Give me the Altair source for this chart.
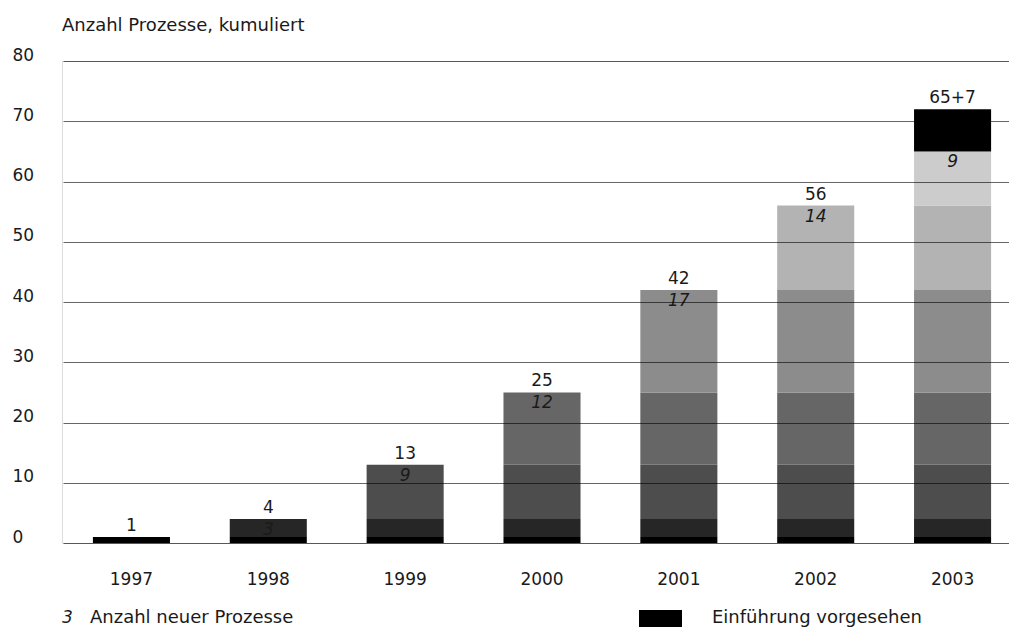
import altair as alt
import pandas as pd

# ---- data ----
years = ["1997", "1998", "1999", "2000", "2001", "2002", "2003"]
new_counts = [1, 3, 9, 12, 17, 14, 9]          # new processes per year (cohort)
planned = [0, 0, 0, 0, 0, 0, 7]                # introduction planned
total_labels = ["1", "4", "13", "25", "42", "56", "65+7"]
new_labels = ["", "3", "9", "12", "17", "14", "9"]
y_ticks = [0, 10, 20, 30, 40, 50, 60, 70, 80]

cohort_domain = years + ["geplant"]
cohort_colors = ["#000000", "#262626", "#4d4d4d", "#666666",
                 "#8c8c8c", "#b3b3b3", "#cccccc", "#000000"]

FONT = "DejaVu Sans"
FS = 17        # numbers
FS_W = 18      # word texts
TXT = "#1a1a1a"

# stacked segments: every bar contains all cohorts up to its year
rows = []
for i, yr in enumerate(years):
    for j in range(i + 1):
        rows.append({"year": yr, "cohort": years[j], "value": new_counts[j], "order": j})
    if planned[i] > 0:
        rows.append({"year": yr, "cohort": "geplant", "value": planned[i], "order": len(years)})
seg = pd.DataFrame(rows)

cum = pd.Series(new_counts).cumsum().tolist()
lab = pd.DataFrame({
    "year": years,
    "cum": cum,
    "top": [c + p for c, p in zip(cum, planned)],
    "total_label": total_labels,
    "new_label": new_labels,
})

x_scale = alt.Scale(paddingInner=0.437, paddingOuter=0.2185, range=[1, 959])
x_enc = alt.X("year:N", sort=years, scale=x_scale,
              axis=alt.Axis(title=None, labelAngle=0, ticks=False, domain=False,
                            labelFont=FONT, labelFontSize=FS, labelColor=TXT,
                            labelBaseline="alphabetic", labelPadding=41, grid=False))
y_scale = alt.Scale(domain=[0, 80], nice=False)

bars = alt.Chart(seg).mark_bar().encode(
    x=x_enc,
    y=alt.Y("value:Q", stack="zero", scale=y_scale,
            axis=alt.Axis(title=None, values=y_ticks, ticks=False, domain=False,
                          labelFont=FONT, labelFontSize=FS, labelColor=TXT,
                          labelAlign="left", labelBaseline="alphabetic",
                          labelPadding=50, labelOffset=-1,
                          grid=True, gridColor="#000000", gridOpacity=0.6,
                          gridWidth=1, zindex=1)),
    color=alt.Color("cohort:N", scale=alt.Scale(domain=cohort_domain, range=cohort_colors),
                    legend=None),
    order=alt.Order("order:Q"),
)

totals = alt.Chart(lab).mark_text(
    font=FONT, fontSize=FS, color=TXT, baseline="alphabetic", dy=-6
).encode(
    x=alt.X("year:N", sort=years, scale=x_scale),
    y=alt.Y("top:Q", scale=y_scale),
    text="total_label:N",
)

news = alt.Chart(lab).mark_text(
    font=FONT, fontSize=FS, fontStyle="italic", color=TXT, baseline="alphabetic", dy=16
).encode(
    x=alt.X("year:N", sort=years, scale=x_scale),
    y=alt.Y("cum:Q", scale=y_scale),
    text="new_label:N",
)

title = alt.Chart(pd.DataFrame({"t": ["Anzahl Prozesse, kumuliert"]})).mark_text(
    font=FONT, fontSize=FS_W, color=TXT, align="left", baseline="alphabetic"
).encode(x=alt.value(0), y=alt.value(-30), text="t:N")

leg_num = alt.Chart(pd.DataFrame({"t": ["3"]})).mark_text(
    font=FONT, fontSize=FS, fontStyle="italic", color=TXT, align="left", baseline="alphabetic"
).encode(x=alt.value(0), y=alt.value(562), text="t:N")

leg_txt1 = alt.Chart(pd.DataFrame({"t": ["Anzahl neuer Prozesse"]})).mark_text(
    font=FONT, fontSize=FS_W, color=TXT, align="left", baseline="alphabetic"
).encode(x=alt.value(28), y=alt.value(562), text="t:N")

leg_rect = alt.Chart(pd.DataFrame({"t": ["geplant"]})).mark_rect(color="#000000").encode(
    x=alt.value(577), x2=alt.value(620), y=alt.value(549), y2=alt.value(566)
)

leg_txt2 = alt.Chart(pd.DataFrame({"t": ["Einführung vorgesehen"]})).mark_text(
    font=FONT, fontSize=FS_W, color=TXT, align="left", baseline="alphabetic"
).encode(x=alt.value(650), y=alt.value(562), text="t:N")

chart = alt.layer(bars, totals, news, title, leg_num, leg_txt1, leg_rect, leg_txt2).properties(
    width=947, height=482,
    autosize=alt.AutoSizeParams(type="none"),
    padding={"left": 54, "top": 53, "right": 0, "bottom": 84},
).configure_view(stroke=None).configure(background="white")

chart.save("out.html", embed_options={"renderer": "svg", "actions": False})
